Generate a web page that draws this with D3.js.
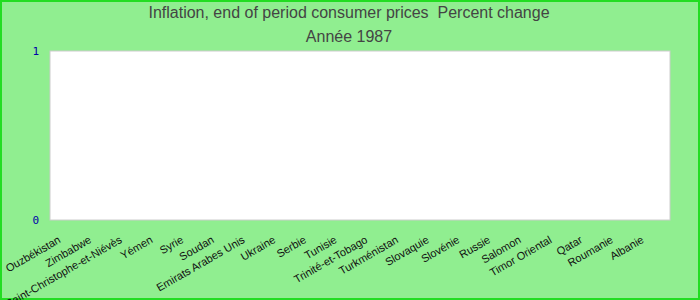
<!DOCTYPE html>
<html>
<head>
<meta charset="utf-8">
<script src="https://cdn.jsdelivr.net/npm/d3@7"></script>
<style>
  html, body { margin: 0; padding: 0; background: #90ee90; }
  svg { display: block; }
  .title { white-space: pre; }
</style>
</head>
<body>
<svg id="chart" width="700" height="300"></svg>
<script>
// Countries shown on the category axis
const countries = [
  "Ouzbékistan", "Zimbabwe", "Saint-Christophe-et-Niévès", "Yémen", "Syrie",
  "Soudan", "Emirats Arabes Unis", "Ukraine", "Serbie", "Tunisie",
  "Trinité-et-Tobago", "Turkménistan", "Slovaquie", "Slovénie", "Russie",
  "Salomon", "Timor Oriental", "Qatar", "Roumanie", "Albanie"
];
// Inflation values for 1987 (no figures reported for these countries)
const inflation1987 = [
  null, null, null, null, null,
  null, null, null, null, null,
  null, null, null, null, null,
  null, null, null, null, null
];
const yTicks = [0, 1];
const titleLines = ["Inflation, end of period consumer prices  Percent change", "Année 1987"];

const W = 700, H = 300;
const plot = { left: 50, top: 51, right: 670, bottom: 220 };

const svg = d3.select("#chart");

// page background and outer frame
svg.append("rect").attr("x", 0).attr("y", 0).attr("width", W).attr("height", H)
  .attr("fill", "#90ee90");
svg.append("rect").attr("x", 1).attr("y", 1).attr("width", W - 2).attr("height", H - 2)
  .attr("fill", "none").attr("stroke", "#22dd22").attr("stroke-width", 2);

// titles
svg.selectAll("text.title").data(titleLines).enter().append("text")
  .attr("class", "title")
  .attr("x", 349)
  .attr("y", (d, i) => 18 + i * 23.5)
  .attr("text-anchor", "middle")
  .attr("font-family", "Liberation Sans, Arial, sans-serif")
  .attr("font-size", 16)
  .attr("fill", "#444444")
  .text(d => d);

// plot area
svg.append("rect")
  .attr("x", plot.left).attr("y", plot.top)
  .attr("width", plot.right - plot.left).attr("height", plot.bottom - plot.top)
  .attr("fill", "#ffffff").attr("stroke", "#cccccc").attr("stroke-width", 1);

const x = d3.scaleBand().domain(countries).range([plot.left, plot.right]).padding(0.2);
const y = d3.scaleLinear().domain([0, 1]).range([plot.bottom, plot.top]);

// bars (only countries with a reported value)
svg.append("g").selectAll("rect")
  .data(countries.map((c, i) => ({ c, v: inflation1987[i] })).filter(d => d.v != null))
  .enter().append("rect")
  .attr("x", d => x(d.c))
  .attr("width", x.bandwidth())
  .attr("y", d => y(Math.max(0, d.v)))
  .attr("height", d => Math.abs(y(d.v) - y(0)))
  .attr("fill", "#3366cc");

// y axis labels
const yAxis = d3.axisLeft(y).tickValues(yTicks).tickFormat(d3.format("d")).tickSize(0).tickPadding(11);
const gy = svg.append("g").attr("transform", `translate(${plot.left},0)`).call(yAxis);
gy.select(".domain").remove();
gy.selectAll("text")
  .attr("font-family", "DejaVu Sans Mono, monospace")
  .attr("font-size", 11)
  .attr("fill", "#0000aa");

// x axis labels, rotated
const xAxis = d3.axisBottom(x).tickSize(0).tickPadding(0);
const gx = svg.append("g").attr("transform", `translate(0,${plot.bottom})`).call(xAxis);
gx.select(".domain").remove();
gx.selectAll(".tick text")
  .attr("font-family", "Liberation Sans, Arial, sans-serif")
  .attr("font-size", 11)
  .attr("fill", "#111")
  .attr("text-anchor", "end")
  .attr("x", 0).attr("y", 0).attr("dy", "0")
  .attr("transform", "translate(-7,22) rotate(-30)");
</script>
</body>
</html>
